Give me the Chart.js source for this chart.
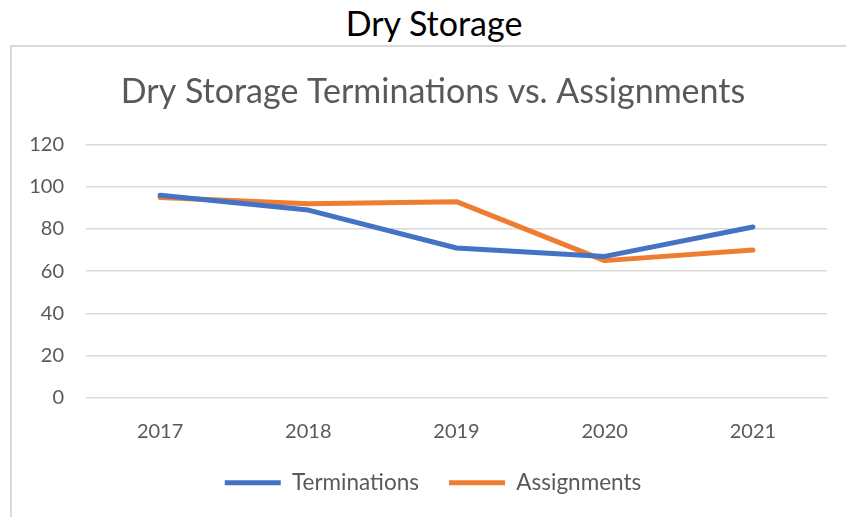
<!DOCTYPE html>
<html>
<head>
<meta charset="utf-8">
<script src="https://cdn.jsdelivr.net/npm/chart.js@4"></script>
<style>
  body { margin: 0; background: #fff; overflow: hidden; }
  #pageTitle {
    position: absolute; left: 0; top: 2px; width: 868px;
    text-align: center; font-family: Lato, sans-serif; font-size: 34px; color: #000;
  }
  #box {
    position: absolute; left: 10px; top: 45px; width: 850px; height: 490px;
    border: 2px solid #d9d9d9;
  }
</style>
</head>
<body>
<div id="pageTitle">Dry Storage</div>
<div id="box"><canvas id="ourChart" width="842" height="470"></canvas></div>
<script>
let years = ['2017', '2018', '2019', '2020', '2021'];
let terminations = [96, 89, 71, 67, 81];
let assignments = [95, 92, 93, 65, 70];
let seriesNames = ['Terminations', 'Assignments'];

let ourCanvas = document.getElementById('ourChart');

new Chart(ourCanvas, {
    type: 'line',
    data: {
        labels: years,
        datasets: [
            {
                label: seriesNames[0],
                data: terminations,
                borderColor: '#4472C4',
                backgroundColor: '#4472C4',
                borderWidth: 5,
                borderCapStyle: 'round',
                borderJoinStyle: 'round',
                pointRadius: 0,
                tension: 0
            },
            {
                label: seriesNames[1],
                data: assignments,
                borderColor: '#ED7D31',
                backgroundColor: '#ED7D31',
                borderWidth: 5,
                borderCapStyle: 'round',
                borderJoinStyle: 'round',
                pointRadius: 0,
                tension: 0
            }
        ]
    },
    options: {
        responsive: false,
        animation: false,
        layout: { padding: { left: 0, right: 0, top: 0, bottom: 13 } },
        plugins: {
            title: {
                display: true,
                text: 'Dry Storage Terminations vs. Assignments',
                color: '#595959',
                font: { family: 'Lato', size: 34, weight: 'normal' },
                padding: { top: 25, bottom: 32 }
            },
            legend: {
                display: true,
                position: 'bottom',
                labels: {
                    usePointStyle: true,
                    pointStyle: 'line',
                    pointStyleWidth: 56,
                    padding: 30,
                    color: '#595959',
                    font: { family: 'Lato', size: 22.5 }
                }
            },
            tooltip: { enabled: false }
        },
        scales: {
            x: {
                offset: true,
                afterFit: function (scale) { scale.height = 44; },
                grid: { display: false, drawTicks: false },
                border: { display: true, color: '#d9d9d9', width: 1 },
                ticks: { color: '#595959', padding: 22, font: { family: 'Lato', size: 20 } }
            },
            y: {
                min: 0,
                max: 120,
                afterFit: function (scale) { scale.width = 74; },
                grid: { color: '#d9d9d9', lineWidth: 1.5, drawTicks: false },
                border: { display: false },
                ticks: { stepSize: 20, color: '#595959', padding: 22, font: { family: 'Lato', size: 20 } }
            },
            // empty right axis, only keeps the plot narrower than the title/legend box
            yRight: {
                position: 'right',
                afterFit: function (scale) { scale.width = 27; },
                grid: { display: false, drawTicks: false },
                border: { display: false },
                ticks: { display: false }
            }
        }
    }
});
</script>
</body>
</html>
